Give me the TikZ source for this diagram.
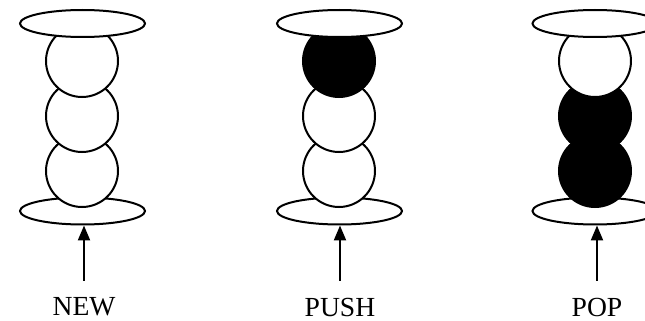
\documentclass[tikz,border=0pt]{standalone}
\usepackage{fontspec}
\setmainfont{Liberation Serif}
\usetikzlibrary{shapes.geometric,arrows.meta,positioning}

\begin{document}
\begin{tikzpicture}[
		x=0.5pt, y=-0.5pt,
		line width=1pt,
		disc/.style={ellipse, draw, fill=white, inner sep=0pt,
			minimum width=62.5pt, minimum height=13.5pt},
		ball/.style={circle, draw, fill=white, inner sep=0pt, minimum size=36pt},
		fullball/.style={ball, fill=black},
		arrow/.style={-{Triangle[length=7.5pt,width=6pt]}, line width=1.1pt,
			shorten <=8pt},
		stacklabel/.style={font=\fontsize{13.8}{16}\selectfont, inner sep=0pt}
		]
		\useasboundingbox (0,0) rectangle (645,321);
		
		% Stack 1: NEW
		\node[disc] (newbot) at (82.5,211) {};
		\node[ball] (new3) at (82,171) {};
		\node[ball] (new2) at (82,116) {};
		\node[ball] (new1) at (82,61) {};
		\node[disc] (newtop) at (82.5,23.5) {};
		\node[stacklabel] (new) at (84,307) {NEW};
		
		% Stack 2: PUSH
		\node[disc] (pushbot) at (339.5,211) {};
		\node[ball] (push3) at (339,171) {};
		\node[ball] (push2) at (339,116) {};
		\node[fullball] (push1) at (339,61) {};
		\node[disc] (pushtop) at (339.5,23.5) {};
		\node[stacklabel] (push) at (340,307) {PUSH};
		
		% Stack 3: POP
		\node[disc] (popbot) at (595,211) {};
		\node[fullball] (pop3) at (595,171) {};
		\node[fullball] (pop2) at (595,116) {};
		\node[ball] (pop1) at (595,61) {};
		\node[disc] (poptop) at (595,23.5) {};
		\node[stacklabel] (pop) at (597,307) {POP};
		
		% Arrows into the bottom discs
		\draw[arrow] (new.north) -- (new.north |- newbot.south);
		\draw[arrow] (push.north) -- (push.north |- pushbot.south);
		\draw[arrow] (pop.north) -- (pop.north |- popbot.south);
		
	\end{tikzpicture}
\end{document}
